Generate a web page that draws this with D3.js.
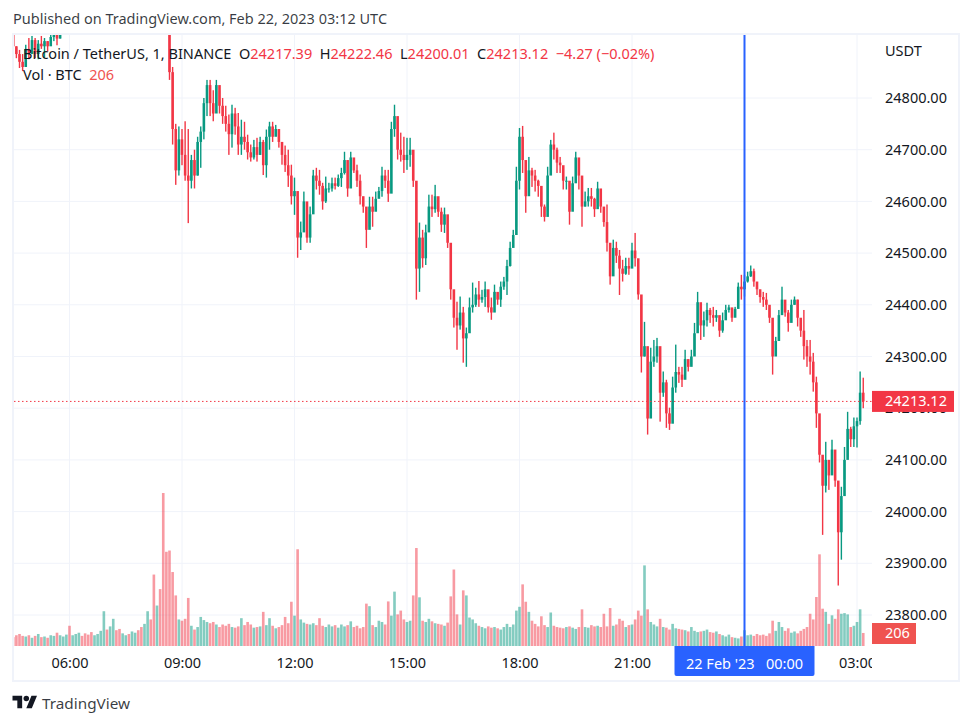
<!DOCTYPE html>
<html>
<head>
<meta charset="utf-8">
<script src="https://cdn.jsdelivr.net/npm/d3@7"></script>
<style>
  html, body { margin: 0; background: #fff; }
  svg { display: block; }
  text { font-family: "Noto Sans", sans-serif; fill: #131722; }
</style>
</head>
<body>
<div id="chart"></div>
<script>
// 5 minute candles, one row per hour, first bar 04:30 UTC
const closes = [
  24900,24885,24870,24860,24895,24885,24912,24885,24905,24900,24910,24900,
  24918,24930,24915,24940,24950,24960,24945,24955,24970,24980,24965,24950,
  24945,24935,24950,24975,24990,25010,25000,25020,25040,25030,25015,25025,
  25040,25030,25045,25060,25050,25040,25060,25070,25040,25010,25030,24990,
  24960,24940,24850,24740,24660,24720,24690,24650,24640,24680,24650,24715,
  24735,24790,24825,24790,24770,24825,24785,24765,24750,24730,24770,24745,
  24710,24725,24715,24695,24685,24705,24690,24715,24670,24725,24745,24725,
  24740,24715,24690,24670,24650,24610,24620,24530,24540,24600,24530,24575,
  24650,24640,24630,24600,24625,24625,24635,24630,24645,24655,24680,24625,
  24685,24660,24640,24610,24590,24545,24590,24580,24605,24620,24650,24640,
  24615,24740,24765,24700,24690,24680,24690,24700,24640,24470,24530,24490,
  24540,24590,24585,24610,24580,24555,24575,24520,24430,24375,24360,24385,
  24335,24345,24395,24400,24420,24410,24415,24430,24395,24385,24425,24410,
  24435,24445,24475,24510,24535,24640,24725,24680,24610,24660,24650,24640,
  24630,24590,24570,24650,24710,24700,24675,24670,24640,24640,24580,24635,
  24685,24650,24590,24600,24610,24605,24585,24625,24590,24560,24520,24455,
  24510,24495,24470,24460,24475,24470,24505,24490,24420,24300,24320,24180,
  24290,24300,24320,24230,24250,24190,24170,24240,24270,24265,24255,24295,
  24280,24300,24345,24405,24360,24370,24390,24380,24375,24380,24350,24370,
  24390,24395,24375,24392,24435,24430,24445,24455,24465,24445,24430,24415,
  24410,24400,24375,24300,24330,24380,24410,24385,24365,24400,24410,24375,
  24350,24320,24300,24290,24250,24190,24110,24050,24100,24070,24120,24060,
  23960,24030,24100,24160,24140,24165,24175,24230,24213.12
]
const highs = [
  24950,24900,24893,24885,24903,24916,24920,24916,24912,24920,24916,24910,
  24922,24940,24945,24950,24965,24975,24960,24970,24985,24995,24980,24965,
  24958,24950,24965,24990,25005,25025,25015,25035,25055,25045,25030,25040,
  25055,25045,25060,25075,25065,25055,25075,25085,25060,25045,25045,25035,
  25000,24975,24925,24860,24750,24745,24740,24755,24740,24690,24700,24725,
  24745,24800,24835,24835,24815,24835,24815,24800,24785,24768,24787,24781,
  24771,24758,24754,24729,24710,24719,24723,24725,24719,24739,24754,24754,
  24748,24739,24715,24708,24700,24671,24646,24609,24561,24619,24565,24590,
  24661,24665,24661,24636,24648,24636,24646,24646,24652,24665,24696,24661,
  24696,24681,24671,24652,24609,24580,24609,24609,24619,24628,24667,24661,
  24661,24754,24787,24754,24733,24725,24723,24723,24669,24603,24559,24545,
  24555,24613,24613,24632,24607,24588,24588,24539,24506,24423,24406,24416,
  24396,24356,24414,24443,24433,24446,24429,24445,24410,24414,24439,24423,
  24445,24454,24487,24522,24545,24667,24742,24746,24646,24686,24665,24661,
  24642,24619,24594,24667,24719,24733,24704,24686,24667,24648,24603,24648,
  24696,24684,24636,24619,24626,24626,24607,24638,24607,24578,24594,24506,
  24526,24522,24506,24487,24491,24491,24520,24539,24458,24404,24367,24259,
  24317,24332,24336,24294,24271,24255,24201,24261,24323,24280,24280,24313,
  24294,24313,24365,24425,24385,24387,24404,24394,24396,24390,24371,24385,
  24400,24400,24390,24396,24443,24458,24458,24464,24476,24470,24443,24429,
  24425,24423,24394,24365,24338,24390,24435,24400,24390,24410,24416,24410,
  24371,24390,24332,24332,24307,24261,24178,24106,24135,24100,24139,24087,
  24052,24048,24125,24193,24164,24182,24182,24271,24259
]
const lows = [
  24893,24877,24858,24852,24870,24875,24893,24877,24875,24895,24877,24890,
  24903,24910,24902,24915,24930,24945,24932,24940,24955,24965,24950,24936,
  24932,24926,24936,24960,24975,24995,24985,25005,25025,25015,25000,25010,
  25025,25015,25030,25045,25035,25025,25045,25055,25025,24995,25015,24975,
  24945,24930,24835,24710,24632,24650,24670,24640,24558,24625,24625,24650,
  24665,24720,24765,24765,24755,24785,24770,24750,24735,24690,24704,24729,
  24690,24690,24700,24681,24677,24681,24677,24690,24651,24646,24700,24715,
  24729,24704,24671,24657,24628,24594,24574,24491,24506,24565,24520,24520,
  24603,24623,24613,24584,24597,24617,24619,24623,24628,24628,24652,24609,
  24661,24655,24628,24594,24578,24510,24551,24551,24584,24609,24609,24626,
  24599,24665,24725,24681,24677,24655,24661,24667,24628,24410,24425,24472,
  24477,24555,24570,24578,24570,24541,24539,24510,24410,24356,24313,24352,
  24288,24280,24371,24385,24396,24396,24404,24396,24385,24371,24400,24400,
  24396,24429,24419,24474,24520,24551,24623,24655,24578,24623,24628,24619,
  24609,24570,24561,24580,24677,24681,24655,24655,24623,24623,24555,24613,
  24655,24623,24551,24590,24590,24590,24570,24597,24578,24551,24503,24439,
  24487,24481,24419,24445,24458,24458,24483,24474,24410,24269,24300,24149,
  24211,24280,24288,24174,24222,24162,24158,24191,24230,24249,24241,24269,
  24271,24284,24313,24371,24332,24338,24358,24365,24358,24367,24338,24346,
  24371,24385,24367,24387,24410,24410,24416,24443,24454,24435,24419,24404,
  24396,24390,24365,24265,24307,24352,24390,24377,24348,24385,24400,24358,
  24338,24294,24280,24265,24232,24162,24095,23955,24037,24042,24081,24048,
  23857,23907,24062,24106,24125,24125,24124,24168,24200
]
const volumes = [
  140,170,190,160,150,170,130,160,190,140,150,130,
  170,160,210,170,150,180,320,170,190,210,160,200,
  180,220,170,190,240,550,260,310,430,250,270,200,
  170,190,230,210,250,300,350,550,420,1130,640,900,
  2420,1490,1510,1170,800,420,400,430,760,320,260,300,
  460,410,380,360,380,340,300,340,320,350,300,290,
  310,440,330,380,340,290,300,310,540,330,440,320,
  280,300,330,460,360,700,480,1530,420,370,350,340,
  360,330,440,320,300,340,310,330,290,340,310,330,
  390,300,320,280,300,670,630,330,300,400,380,340,
  705,480,860,500,560,420,380,400,800,1550,770,400,
  380,430,390,360,350,340,320,370,785,1210,500,340,
  880,800,450,420,360,320,300,280,310,290,300,280,
  260,300,350,300,340,560,620,975,700,540,400,350,
  310,470,330,300,530,320,300,290,280,300,310,290,
  270,300,580,300,290,330,310,320,300,510,310,600,
  320,340,430,400,300,330,340,420,560,480,1275,580,
  380,340,310,430,300,290,260,350,280,270,260,250,
  230,300,240,220,230,240,260,220,210,230,190,170,
  150,180,140,130,120,150,250,170,180,160,190,170,
  180,160,200,400,240,380,300,240,280,210,230,200,
  240,270,300,510,420,775,1450,590,540,350,485,430,
  580,510,520,500,300,320,380,580,206
]
const priceTicks = [24800,24700,24600,24500,24400,24300,24200,24100,24000,23900,23800]
const timeTicks = ['2023-02-21T06:00Z','2023-02-21T09:00Z','2023-02-21T12:00Z','2023-02-21T15:00Z',
  '2023-02-21T18:00Z','2023-02-21T21:00Z','2023-02-22T03:00Z'].map(d => new Date(d))
const firstBar = new Date('2023-02-21T04:30Z')
const crosshairTime = new Date('2023-02-22T00:00Z')
const lastPrice = 24213.12
const lastVolume = 206
const legendValues = ['24217.39','24222.46','24200.01','24213.12']
const legendLabels = ['O','H','L','C']

const UP = '#089981'
const DOWN = '#F23645'
const GRID = '#f0f3fa'
const FONT = '14.5px'

const width = 972
const height = 725
const paneLeft = 14, paneRight = 872, paneTop = 35, paneBottom = 646

const x = d3.scaleUtc()
  .domain([timeTicks[0], timeTicks[6]])
  .range([69.5, 857])
const y = d3.scaleLinear().domain([23800, 24800]).range([615, 98])
const yVol = d3.scaleLinear().domain([0, 2420]).range([paneBottom, 493])

const bars = closes.map((c, i) => ({
  time: d3.utcMinute.offset(firstBar, i * 5),
  open: i === 0 ? 24940 : closes[i - 1],
  high: highs[i],
  low: lows[i],
  close: c,
  volume: volumes[i]
}))

const svg = d3.select('#chart').append('svg')
  .attr('width', width)
  .attr('height', height)

svg.append('clipPath').attr('id', 'pane')
  .append('rect')
  .attr('x', paneLeft).attr('y', paneTop)
  .attr('width', paneRight - paneLeft).attr('height', paneBottom - paneTop)
svg.append('clipPath').attr('id', 'time-clip')
  .append('rect')
  .attr('x', paneLeft).attr('y', paneBottom)
  .attr('width', paneRight - paneLeft).attr('height', 34)

// Header
svg.append('text')
  .attr('x', 13).attr('y', 24)
  .style('font-size', FONT)
  .attr('fill-opacity', 0.85)
  .text('Published on TradingView.com, Feb 22, 2023 03:12 UTC')

// Frame
svg.append('path')
  .attr('d', `M13,${height - 44}V34H959V${height - 44}Z`)
  .attr('fill', 'none')
  .attr('stroke', GRID)
  .attr('stroke-width', 2)

// Grid
svg.append('g').selectAll('line')
  .data(priceTicks)
  .join('line')
  .attr('x1', paneLeft).attr('x2', paneRight)
  .attr('y1', d => y(d)).attr('y2', d => y(d))
  .attr('stroke', GRID)
svg.append('g').selectAll('line')
  .data(timeTicks)
  .join('line')
  .attr('x1', d => x(d)).attr('x2', d => x(d))
  .attr('y1', paneTop).attr('y2', paneBottom)
  .attr('stroke', GRID)

const pane = svg.append('g').attr('clip-path', 'url(#pane)')

// Volume
pane.append('g').selectAll('rect')
  .data(bars)
  .join('rect')
  .attr('x', d => x(d.time) - 1.3)
  .attr('width', 2.6)
  .attr('y', d => yVol(d.volume))
  .attr('height', d => yVol(0) - yVol(d.volume))
  .attr('fill', d => d.close >= d.open ? UP : DOWN)
  .attr('fill-opacity', 0.5)

// Candles
const candles = pane.append('g').selectAll('g')
  .data(bars)
  .join('g')
  .attr('fill', d => d.close >= d.open ? UP : DOWN)
candles.append('rect')
  .attr('x', d => x(d.time) - 0.7)
  .attr('width', 1.4)
  .attr('y', d => y(d.high))
  .attr('height', d => y(d.low) - y(d.high))
candles.append('rect')
  .attr('x', d => x(d.time) - 1.3)
  .attr('width', 2.6)
  .attr('y', d => y(Math.max(d.open, d.close)))
  .attr('height', d => Math.max(1, Math.abs(y(d.open) - y(d.close))))

// Last price line
pane.append('line')
  .attr('x1', paneLeft).attr('x2', paneRight)
  .attr('y1', y(lastPrice)).attr('y2', y(lastPrice))
  .attr('stroke', DOWN)
  .attr('stroke-dasharray', '1.5 2.5')

// Crosshair
pane.append('line')
  .attr('x1', x(crosshairTime)).attr('x2', x(crosshairTime))
  .attr('y1', paneTop).attr('y2', paneBottom)
  .attr('stroke', '#2962FF')
  .attr('stroke-width', 2)

// Price axis
const yAxis = svg.append('g')
  .attr('transform', `translate(${paneRight},0)`)
  .call(d3.axisRight(y).tickValues(priceTicks).tickFormat(d3.format('.2f')).tickSize(0).tickPadding(13))
yAxis.select('.domain').remove()
yAxis.selectAll('text').style('font-size', FONT).style('fill', '#131722').style('font-family', '"Noto Sans", sans-serif')
svg.append('text')
  .attr('x', 885).attr('y', 56)
  .style('font-size', FONT)
  .text('USDT')

// Time axis
const xAxis = svg.append('g').attr('clip-path', 'url(#time-clip)')
  .append('g')
  .attr('transform', `translate(0,${paneBottom})`)
  .call(d3.axisBottom(x).tickValues(timeTicks).tickFormat(d3.utcFormat('%H:%M')).tickSize(0).tickPadding(12))
xAxis.select('.domain').remove()
xAxis.selectAll('text').style('font-size', FONT).style('fill', '#131722').style('font-family', '"Noto Sans", sans-serif')

// Crosshair date tag
svg.append('path')
  .attr('d', `M${x(crosshairTime) - 70},${paneBottom}H${x(crosshairTime) + 70}V${paneBottom + 28}a2,2 0 0 1 -2,2H${x(crosshairTime) - 68}a2,2 0 0 1 -2,-2Z`)
  .attr('fill', '#2962FF')
svg.append('text')
  .attr('x', x(crosshairTime)).attr('y', paneBottom + 23)
  .attr('text-anchor', 'middle')
  .style('fill', '#fff')
  .style('font-size', FONT)
  .style('white-space', 'pre')
  .text("22 Feb '23   00:00")

// Price and volume tags
svg.append('rect')
  .attr('x', paneRight).attr('y', y(lastPrice) - 10.5)
  .attr('width', 82).attr('height', 21)
  .attr('fill', DOWN)
svg.append('text')
  .attr('x', 885).attr('y', y(lastPrice) + 5)
  .style('fill', '#fff')
  .style('font-size', FONT)
  .text(d3.format('.2f')(lastPrice))
svg.append('rect')
  .attr('x', paneRight).attr('y', 623)
  .attr('width', 44).attr('height', 21)
  .attr('fill', '#EF5350')
svg.append('text')
  .attr('x', 885).attr('y', 638)
  .style('fill', '#fff')
  .style('font-size', FONT)
  .text(lastVolume)

// Legend
const legend = svg.append('text')
  .attr('x', 23).attr('y', 59)
  .style('font-size', FONT)
  .style('white-space', 'pre')
legend.append('tspan').text('Bitcoin / TetherUS, 1, BINANCE  ')
legendLabels.forEach((label, i) => {
  legend.append('tspan').text(label)
  legend.append('tspan').style('fill', DOWN).text(legendValues[i] + '  ')
})
legend.append('tspan').style('fill', DOWN).text('\u22124.27 (\u22120.02%)')

const volLegend = svg.append('text')
  .attr('x', 23).attr('y', 80)
  .style('font-size', FONT)
  .style('white-space', 'pre')
volLegend.append('tspan').text('Vol \u00b7 BTC  ')
volLegend.append('tspan').style('fill', '#EF5350').text(lastVolume)

// Logo
svg.append('g')
  .attr('transform', 'translate(12.5,693) scale(0.69)')
  .attr('fill', '#131722')
  .call(g => {
    g.append('path').attr('d', 'M14 22H7V11H0V4h14v18zM28 22h-8l7.5-18h8L28 22z')
    g.append('circle').attr('cx', 20).attr('cy', 8).attr('r', 4)
  })
svg.append('text')
  .attr('x', 42).attr('y', 709)
  .style('font-size', '15.3px')
  .attr('fill-opacity', 0.85)
  .text('TradingView')
</script>
</body>
</html>
